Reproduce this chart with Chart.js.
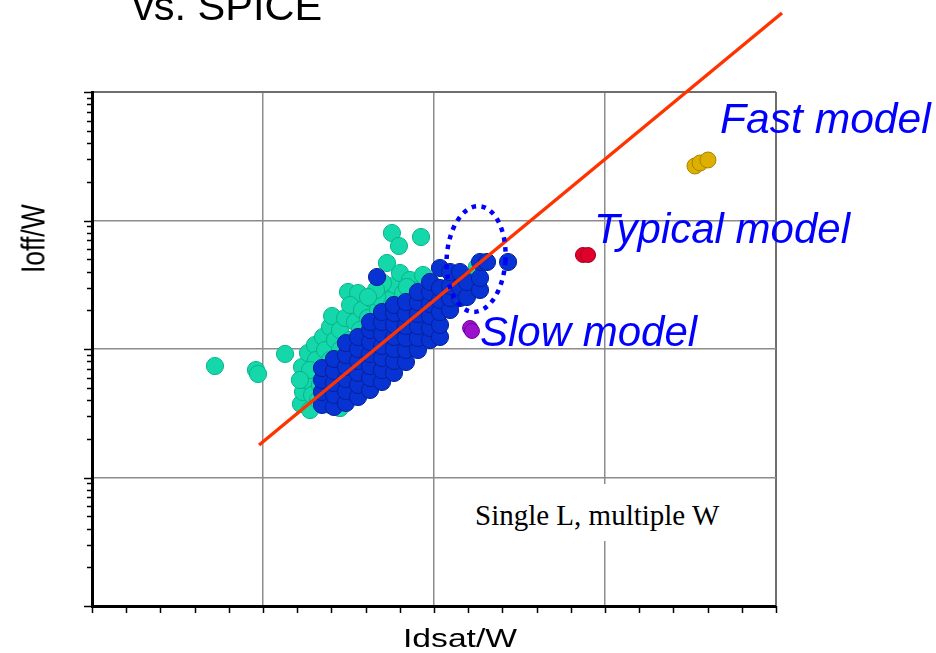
<!DOCTYPE html>
<html><head><meta charset="utf-8">
<script src="https://cdn.jsdelivr.net/npm/chart.js@4.4.1/dist/chart.umd.min.js"></script>
<style>
html,body{margin:0;padding:0;background:#fff;}
#wrap{position:relative;width:936px;height:653px;overflow:hidden;background:#fff;}
#c{position:absolute;left:0;top:0;}
.t{position:absolute;white-space:nowrap;font-family:"Liberation Sans",Arial,sans-serif;line-height:1;}
.ann{color:#0000ff;font-style:italic;font-size:42px;}
</style></head><body>
<div id="wrap">
<canvas id="c" width="936" height="653"></canvas>
<div class="t" style="left:133px;top:-15px;font-size:41.5px;color:#000;">vs. SPICE</div>
<div class="t ann" style="left:720px;top:97px;font-size:42.6px;">Fast model</div>
<div class="t ann" style="left:594px;top:208px;">Typical model</div>
<div class="t ann" style="left:480px;top:311px;">Slow model</div>
<div class="t" style="left:465px;top:484px;padding:17px 10px 11px 10px;background:#fff;font-family:'Liberation Serif','Times New Roman',serif;font-size:29px;color:#000;">Single L, multiple W</div>
<div class="t" style="left:403px;top:625px;font-size:26.5px;color:#000;transform-origin:0 0;transform:scaleX(1.27);">Idsat/W</div>
<div class="t" style="left:16.5px;top:273px;font-size:26.5px;color:#000;transform-origin:0 0;transform:scaleX(1.27) rotate(-90deg);">Ioff/W</div>
</div>
<script>
// ---- data (x: Idsat/W, y: Ioff/W, arbitrary units) ----
const tealX = [0.719,0.959,0.971,1.129,1.222,1.275,1.234,1.251,1.228,1.263,1.304,1.287,1.322,1.310,1.351,1.363,1.333,1.392,1.404,1.421,1.450,1.480,1.497,1.556,1.509,1.538,1.579,1.614,1.643,1.673,1.702,1.725,1.754,1.795,1.924,1.743,1.772,1.801,1.819,1.860,1.877,1.936,1.977,1.918,1.702,1.667,1.842,2.193,2.211,2.251,2.135,1.392,1.450,1.322,1.392,1.450,1.509,1.567,1.275,1.216,1.661,1.614];
const tealY = [73.7,68.6,63.9,91.5,37.3,33.5,46.3,57.4,72.4,93.1,107.4,43.9,66.2,82.1,124.0,98.2,52.5,148.4,180.6,117.5,140.6,174.3,277.7,272.8,220.0,162.3,201.2,174.3,240.6,201.2,287.9,467.0,799.2,633.3,744.0,240.6,314.9,390.3,272.8,344.3,287.9,376.6,332.2,263.2,326.3,254.0,303.8,287.9,332.2,434.7,344.3,36.7,34.7,40.1,82.1,98.2,117.5,140.6,68.6,57.4,287.9,254.0];

const blueX = [1.345,1.345,1.345,1.345,
1.415,1.415,1.415,1.415,1.415,
1.485,1.485,1.485,1.485,1.485,1.485,
1.556,1.556,1.556,1.556,1.556,1.556,
1.626,1.626,1.626,1.626,1.626,1.626,1.626,
1.696,1.696,1.696,1.696,1.696,1.696,1.696,
1.766,1.766,1.766,1.766,1.766,1.766,1.766,
1.836,1.836,1.836,1.836,1.836,1.836,
1.906,1.906,1.906,1.906,1.906,1.906,
1.977,1.977,1.977,1.977,1.977,1.977,
2.035,2.035,2.035,2.035,2.035,2.035,
2.094,2.094,2.094,2.094,
2.152,2.152,2.152,
2.193,2.193,
2.269,2.269,2.269,
2.310,2.433,1.667];
const blueY = [36.7,46.3,57.4,71.1,
35.4,43.9,54.4,67.4,83.6,
38.0,47.1,58.4,72.4,89.8,111.3,
42.3,52.5,65.1,80.7,100,124.0,
48.0,59.5,73.7,91.5,113.4,140.6,162.3,
55.4,68.6,85.1,105.5,130.9,162.3,194.1,
65.1,80.7,100,124.0,153.8,190.6,220.0,
79.2,98.2,121.8,151.0,187.3,232.2,
98.2,121.8,151.0,187.3,232.2,277.7,
117.5,145.7,180.6,224.0,277.7,332.2,
124.0,153.8,194.1,240.6,298.4,427.0,
201.2,249.4,309.3,397.4,
249.4,303.8,397.4,
254.0,332.2,
287.9,356.9,475.4,
475.4,475.4,363.3];

const slowX = [2.211,2.222];
const slowY = [145.7,138.1];
const typicalX = [2.871,2.901];
const typicalY = [539,539];
const fastX = [3.526,3.556,3.602];
const fastY = [2656,2803,2957];
const fitX = [0.977,4.035];
const fitY = [17.9,41190];

// ellipse highlight (data units): centre, half-width in x, half-height in decades
const ringCenter = [2.246, 501.6];
const ringHalf = [0.172, 0.412];

const xRange = [0, 4];
const yRange = [1, 10000];

const pts = (xs, ys) => xs.map((x, i) => ({x, y: ys[i]}));
const isInt = v => Math.abs(v - Math.round(v)) < 1e-6;
const isDecade = v => v > 0 && Math.abs(Math.log10(v) - Math.round(Math.log10(v))) < 1e-6;

const deco = {
  id: 'deco',
  afterDatasetsDraw(chart) {
    const {ctx, scales: {x, y}} = chart;
    const cx = x.getPixelForValue(ringCenter[0]);
    const cy = y.getPixelForValue(ringCenter[1]);
    const rx = x.getPixelForValue(ringCenter[0] + ringHalf[0]) - cx;
    const ry = cy - y.getPixelForValue(ringCenter[1] * Math.pow(10, ringHalf[1]));
    ctx.save();
    ctx.strokeStyle = '#0000ff';
    ctx.lineWidth = 4.5;
    ctx.setLineDash([4.5, 5.5]);
    ctx.beginPath();
    ctx.ellipse(cx, cy, rx, ry, 0.06, 0, Math.PI * 2);
    ctx.stroke();
    ctx.restore();
  },
  afterDraw(chart) {
    const {ctx, chartArea: a, scales: {x, y}} = chart;
    ctx.save();
    ctx.strokeStyle = '#000';
    ctx.lineWidth = 1.5;
    x.ticks.forEach(t => {
      const px = Math.round(x.getPixelForValue(t.value)) + 0.5;
      ctx.beginPath(); ctx.moveTo(px, a.bottom); ctx.lineTo(px, a.bottom + 7); ctx.stroke();
    });
    y.ticks.forEach(t => {
      const v = t.value;
      const sig = v / Math.pow(10, Math.floor(Math.log10(v) + 1e-9));
      if (!isInt(sig)) return;
      const py = Math.round(y.getPixelForValue(v)) + 0.5;
      const len = isDecade(v) ? 8 : 5;
      ctx.beginPath(); ctx.moveTo(a.left, py); ctx.lineTo(a.left - len, py); ctx.stroke();
    });
    ctx.restore();
  }
};

const dot = (fill, border, r) => ({backgroundColor: fill, borderColor: border, pointRadius: r, borderWidth: 1, pointHoverRadius: r});

new Chart(document.getElementById('c'), {
  type: 'scatter',
  data: {
    datasets: [
      Object.assign({label: 'fit', data: pts(fitX, fitY), showLine: true, borderColor: '#ff3300', borderWidth: 3.4, pointRadius: 0, clip: false, order: 0}),
      Object.assign({label: 'fast', data: pts(fastX, fastY), order: 1}, dot('#ddb000', '#a88400', 8)),
      Object.assign({label: 'typical', data: pts(typicalX, typicalY), order: 2}, dot('#e0002c', '#a80020', 7.5)),
      Object.assign({label: 'slow', data: pts(slowX, slowY), order: 3}, dot('#9c12cc', '#70009c', 7.5)),
      Object.assign({label: 'multiple W (blue)', data: pts(blueX, blueY), order: 4}, dot('#0633d2', '#04209c', 8.6)),
      Object.assign({label: 'multiple W (teal)', data: pts(tealX, tealY), order: 5}, dot('#14d8aa', '#08b48c', 8.6))
    ]
  },
  options: {
    responsive: false,
    animation: false,
    devicePixelRatio: 1,
    events: [],
    layout: {autoPadding: false, padding: {left: 92, right: 160, top: 92, bottom: 47}},
    plugins: {legend: {display: false}, tooltip: {enabled: false}, title: {display: false}},
    scales: {
      x: {
        type: 'linear', min: xRange[0], max: xRange[1],
        ticks: {display: false, stepSize: 0.2},
        grid: {
          drawTicks: false,
          color: c => (c.tick && isInt(c.tick.value) && c.tick.value > xRange[0]) ? (c.tick.value >= xRange[1] ? '#6e6e6e' : '#8c8c8c') : 'rgba(0,0,0,0)',
          lineWidth: c => (c.tick && c.tick.value >= xRange[1]) ? 2 : 1.5
        },
        border: {display: true, color: '#000', width: 3}
      },
      y: {
        type: 'logarithmic', min: yRange[0], max: yRange[1],
        ticks: {display: false},
        grid: {
          drawTicks: false,
          color: c => (c.tick && isDecade(c.tick.value) && c.tick.value > yRange[0]) ? (c.tick.value >= yRange[1] ? '#6e6e6e' : '#8c8c8c') : 'rgba(0,0,0,0)',
          lineWidth: c => (c.tick && c.tick.value >= yRange[1]) ? 2 : 1.5
        },
        border: {display: true, color: '#000', width: 3}
      }
    }
  },
  plugins: [deco]
});
</script>
</body></html>
